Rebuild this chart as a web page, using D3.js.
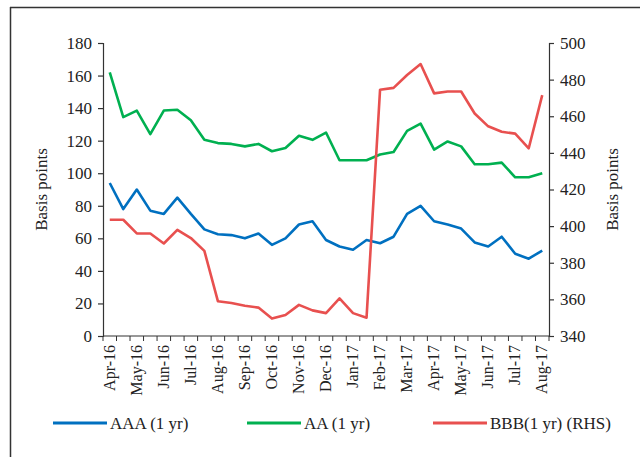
<!DOCTYPE html>
<html>
<head>
<meta charset="utf-8">
<script src="https://cdn.jsdelivr.net/npm/d3@7"></script>
<style>
  body { margin: 0; background: #fff; }
  svg text { font-family: "Liberation Serif", "DejaVu Serif", serif; fill: #222; }
</style>
</head>
<body>
<div id="chart"></div>
<script>
// two observations per month, labels on every other one
var months = ['Apr-16','May-16','Jun-16','Jul-16','Aug-16','Sep-16','Oct-16','Nov-16','Dec-16',
              'Jan-17','Feb-17','Mar-17','Apr-17','May-17','Jun-17','Jul-17','Aug-17']
var aaa = [94,78,90,77,75,85,75,65.5,62.5,62,60,63,56,60,68.5,70.5,
           59,55,53,59,57,61,75,80,70.5,68.5,66,57.5,55,61,50.5,47.5,52.5]
var aa = [162,134.5,138.5,124,138.5,139,132.5,120.5,118.5,118,116.5,118,113.5,115.5,123,120.5,
          125,108,108,108,111.5,113,126,130.5,114.5,119.5,116.5,105.5,105.5,106.5,97.5,97.5,100]
var bbb = [403.5,403.5,396,396,390.5,398,393.5,386.5,359,358,356.5,355.5,349.5,351.5,357,354,
           352.5,360.5,352.5,350,474.5,475.5,482.5,488.5,472.5,473.5,473.5,461.5,454.5,451.5,450.5,442.5,471.5]
var leftTicks = [0,20,40,60,80,100,120,140,160,180]
var rightTicks = [340,360,380,400,420,440,460,480,500]

var W = 640, H = 457
var margin = {left:103, right:91, top:43, bottom:121}
var cw = W - margin.left - margin.right
var ch = H - margin.top - margin.bottom

var svg = d3.select('#chart').append('svg')
    .attr('width', W).attr('height', H)

// outer frame (top and left only visible)
svg.append('line').attr('x1',10).attr('x2',W).attr('y1',7.5).attr('y2',7.5)
    .attr('stroke','#333').attr('stroke-width',1.5)
svg.append('line').attr('x1',10.5).attr('x2',10.5).attr('y1',7).attr('y2',H)
    .attr('stroke','#333').attr('stroke-width',1.5)

var chart = svg.append('g').attr('transform', `translate(${margin.left},${margin.top})`)

var idx = d3.range(aaa.length)
var x = d3.scaleBand().domain(idx).range([0, cw])
var yl = d3.scaleLinear().domain([0,180]).range([ch,0])
var yr = d3.scaleLinear().domain([340,500]).range([ch,0])

// x axis: ticks between every category, labels on even ones
var xg = chart.append('g').attr('transform', `translate(0,${ch})`)
xg.append('line').attr('x1',0).attr('x2',cw).attr('stroke','#333').attr('stroke-width',1.2)
d3.range(aaa.length + 1).forEach(function(i){
    xg.append('line').attr('x1', i*x.step()).attr('x2', i*x.step())
        .attr('y1',0).attr('y2',5).attr('stroke','#333').attr('stroke-width',1)
})
months.forEach(function(m, k){
    var cx = x(k*2) + x.bandwidth()/2
    xg.append('text')
        .attr('transform', `translate(${cx+5},9) rotate(-90)`)
        .attr('text-anchor','end')
        .attr('font-size', 16)
        .text(m)
})

var yaxL = chart.append('g').call(d3.axisLeft(yl).tickValues(leftTicks).tickSize(5).tickPadding(6))
var yaxR = chart.append('g').attr('transform', `translate(${cw},0)`)
    .call(d3.axisRight(yr).tickValues(rightTicks).tickSize(5).tickPadding(6))
;[yaxL, yaxR].forEach(function(g){
    g.selectAll('path,line').attr('stroke','#333').attr('stroke-width',1.2)
    g.selectAll('text').attr('font-size',17).attr('font-family','"Liberation Serif", serif').attr('fill','#222')
})

svg.append('text').attr('transform', `translate(47,${margin.top+ch/2}) rotate(-90)`)
    .attr('text-anchor','middle').attr('font-size',17).text('Basis points')
svg.append('text').attr('transform', `translate(618,${margin.top+ch/2}) rotate(-90)`)
    .attr('text-anchor','middle').attr('font-size',17).text('Basis points')

var cx = function(d,i){ return x(i) + x.bandwidth()/2 }
var series = [
    {name:'AAA (1 yr)', vals:aaa, y:yl, color:'#0070c0'},
    {name:'AA (1 yr)', vals:aa, y:yl, color:'#00b050'},
    {name:'BBB(1 yr) (RHS)', vals:bbb, y:yr, color:'#e8504f'}
]
series.forEach(function(s){
    chart.append('path')
        .datum(s.vals)
        .attr('fill','none')
        .attr('stroke', s.color)
        .attr('stroke-width', 2.6)
        .attr('stroke-linejoin','round')
        .attr('d', d3.line().x(cx).y(function(d){ return s.y(d) }))
})

// legend
var legX = [53, 247, 433]
series.forEach(function(s, i){
    var g = svg.append('g').attr('transform', `translate(${legX[i]},423)`)
    g.append('line').attr('x1',0).attr('x2',54).attr('stroke',s.color).attr('stroke-width',3)
    g.append('text').attr('x',57).attr('y',6).attr('font-size',17).text(s.name)
})
</script>
</body>
</html>
